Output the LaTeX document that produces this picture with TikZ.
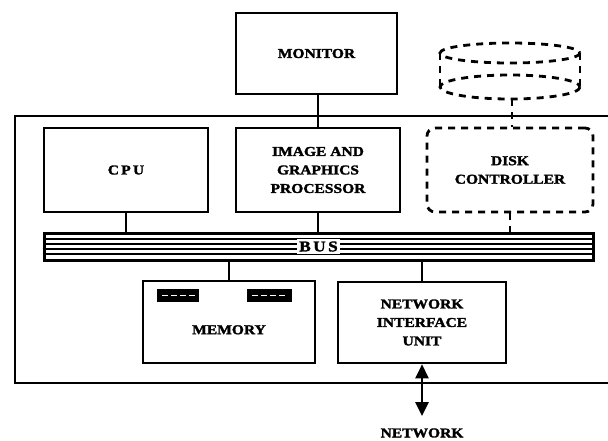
\documentclass[tikz,border=0pt]{standalone}
\usepackage{fontspec}
\setmainfont{Liberation Serif}[FakeStretch=1.15, BoldFeatures={FakeBold=2}]
\usetikzlibrary{arrows.meta}
\tikzset{
  unit/.style={draw, line width=2.6pt, inner sep=0pt, align=center,
    font=\bfseries\fontsize{13.5}{18.5}\selectfont},
  dunit/.style={unit, dash pattern=on 7pt off 6pt, rounded corners=8pt, line width=2.8pt},
  wire/.style={line width=2.6pt},
  dwire/.style={line width=2.8pt, dash pattern=on 7pt off 6pt},
  chip/.style={fill=black}
}

\begin{document}
\begin{tikzpicture}[x=1pt, y=-1pt]
\useasboundingbox (0,0) rectangle (608,440);

% system frame
\draw[line width=2.6pt] (15,116) rectangle (625,383);

\node[unit, minimum width=161pt, minimum height=81pt] (monitor) at (316.5,53.5) {MONITOR};
\node[unit, minimum width=164pt, minimum height=84pt] (cpu) at (126,170) {C\,P\,U};
\node[unit, minimum width=164pt, minimum height=84pt] (igp) at (318,170) {IMAGE AND\\GRAPHICS\\PROCESSOR};
\node[dunit, minimum width=166pt, minimum height=84pt] (dc) at (510,170) {DISK\\CONTROLLER};
\node[unit, minimum width=172pt, minimum height=82pt] (mem) at (229,322) {\\[6pt]MEMORY};
\node[unit, minimum width=168pt, minimum height=81pt] (niu) at (422,322.5) {NETWORK\\INTERFACE\\UNIT};

% bus
\node[draw, line width=3pt, minimum width=549pt, minimum height=27pt, inner sep=0pt] (bus) at (318.5,246.5) {};
\foreach \k in {-7.5,-2.5,2.5,7.5}
  \draw[line width=2pt] ([yshift=-\k pt]bus.west) -- ([yshift=-\k pt]bus.east);
\node[fill=white, inner sep=2pt, font=\bfseries\fontsize{15}{15}\selectfont] (buslbl) at (bus.center) {B\,U\,S};

% disk
\draw[dwire] (510,53) ellipse [x radius=70, y radius=10];
\draw[dwire] (510,87) ellipse [x radius=70, y radius=12];
\draw[dwire] (440,53) -- (440,87);
\draw[dwire] (580,53) -- (580,87);
\coordinate (disk) at (512,99);

% memory chips
\fill[chip] (157,289) rectangle (199,302);
\fill[chip] (247,289) rectangle (292,302);
\draw[white, line width=1.5pt, dash pattern=on 6pt off 3pt] (162,295.5) -- (195,295.5);
\draw[white, line width=1.5pt, dash pattern=on 6pt off 3pt] (252,295.5) -- (288,295.5);

% links
\draw[wire] (monitor.south -| igp.north) -- (igp.north);
\draw[wire] (cpu.south) -- (cpu.south |- bus.north);
\draw[wire] (igp.south) -- (igp.south |- bus.north);
\draw[dwire] (dc.south) -- (dc.south |- bus.north);
\draw[dwire] (disk) -- (disk |- dc.north);
\draw[wire] (mem.north) -- (mem.north |- bus.south);
\draw[wire] (niu.north) -- (niu.north |- bus.south);

\coordinate (net) at (422,416);
\draw[wire, {Triangle[length=14pt,width=13pt]}-{Triangle[length=14pt,width=13pt]}] (niu.south) -- (net);
\node[font=\bfseries\fontsize{13.5}{14}\selectfont] (netlbl) at (422,433) {NETWORK};
\end{tikzpicture}
\end{document}
